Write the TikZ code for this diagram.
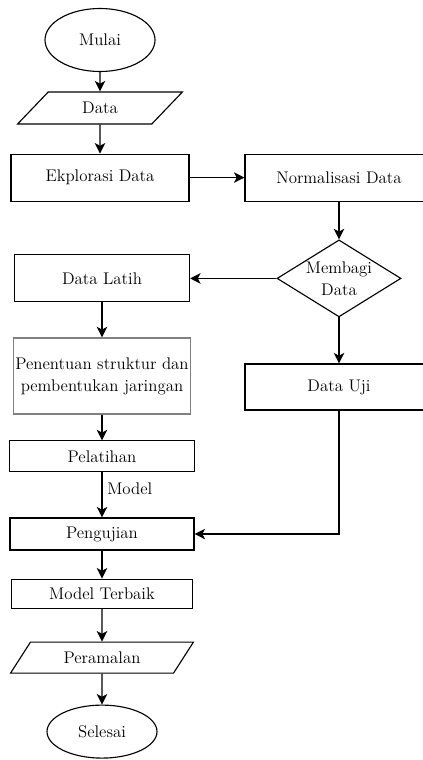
\documentclass[tikz,border=0pt]{standalone}
\usetikzlibrary{arrows.meta,positioning,shapes}

\begin{document}
\begin{tikzpicture}[
  font=\rmfamily\fontsize{12}{15.6}\selectfont,
  proc/.style={draw, line width=0.8pt, minimum width=4.6cm, minimum height=0.8cm,
               inner sep=0pt, align=center},
  io/.style={draw, line width=0.8pt, trapezium, trapezium left angle=48,
             trapezium right angle=132, trapezium stretches=true,
             minimum height=0.8cm, inner sep=0pt},
  term/.style={draw, line width=0.8pt, ellipse, minimum width=2.75cm, inner sep=0pt},
  decision/.style={draw, line width=0.8pt, diamond, minimum width=3.1cm,
                   minimum height=1.925cm, inner sep=0pt},
  arr/.style={-{Stealth[length=7.5pt,width=7.5pt,inset=2pt]}, line width=0.8pt},
]
\useasboundingbox (0,0) rectangle (10.55,-19);

% Left column, top
\node[term, minimum height=1.575cm] (mulai) at (2.5,-1.0) {Mulai};
\node[io, minimum width=4.125cm] (data) at (2.5,-2.7) {Data};
\node[proc, minimum width=4.45cm, minimum height=1.175cm] (eksplor) at (2.5,-4.44) {Ekplorasi Data};

% Right column
\node[proc, minimum width=4.7cm, minimum height=1.175cm] (norm) at (8.475,-4.44) {Normalisasi Data};
\node[decision, label={[align=center]center:Membagi\\Data}] (bagi) at (8.475,-6.96) {};
\node[proc, minimum width=4.7cm, minimum height=1.15cm] (uji) at (8.475,-9.675) {Data Uji};

% Left column, bottom
\node[proc, minimum width=4.375cm, minimum height=1.175cm] (latih) at (2.55,-6.96) {Data Latih};
\node[proc, draw=gray, line width=1pt, minimum width=4.425cm, minimum height=1.9cm] (struktur) at (2.55,-9.4) {Penentuan struktur dan\\pembentukan jaringan};
\node[proc, minimum width=4.625cm, minimum height=0.775cm] (latihan) at (2.55,-11.41) {Pelatihan};
\node[proc, minimum width=4.6cm] (pengujian) at (2.55,-13.35) {Pengujian};
\node[proc, minimum width=4.525cm, minimum height=0.725cm] (terbaik) at (2.55,-14.84) {Model Terbaik};
\node[io, minimum width=4.575cm, minimum height=0.775cm] (ramal) at (2.55,-16.44) {Peramalan};
\node[term, minimum height=1.325cm] (selesai) at (2.55,-18.29) {Selesai};

% Connectors
\draw[arr] (mulai) -- (data);
\draw[arr] (data) -- (eksplor);
\draw[arr] (eksplor) -- (norm);
\draw[arr] (norm) -- (bagi);
\draw[arr] (bagi) -- (latih);
\draw[arr] (bagi) -- (uji);
\draw[arr] (latih) -- (struktur);
\draw[arr] (struktur) -- (latihan);
\draw[arr] (latihan) -- node[right, pos=0.37] {Model} (pengujian);
\draw[arr] (uji) |- (pengujian);
\draw[arr] (pengujian) -- (terbaik);
\draw[arr] (terbaik) -- (ramal);
\draw[arr] (ramal) -- (selesai);
\end{tikzpicture}
\end{document}
